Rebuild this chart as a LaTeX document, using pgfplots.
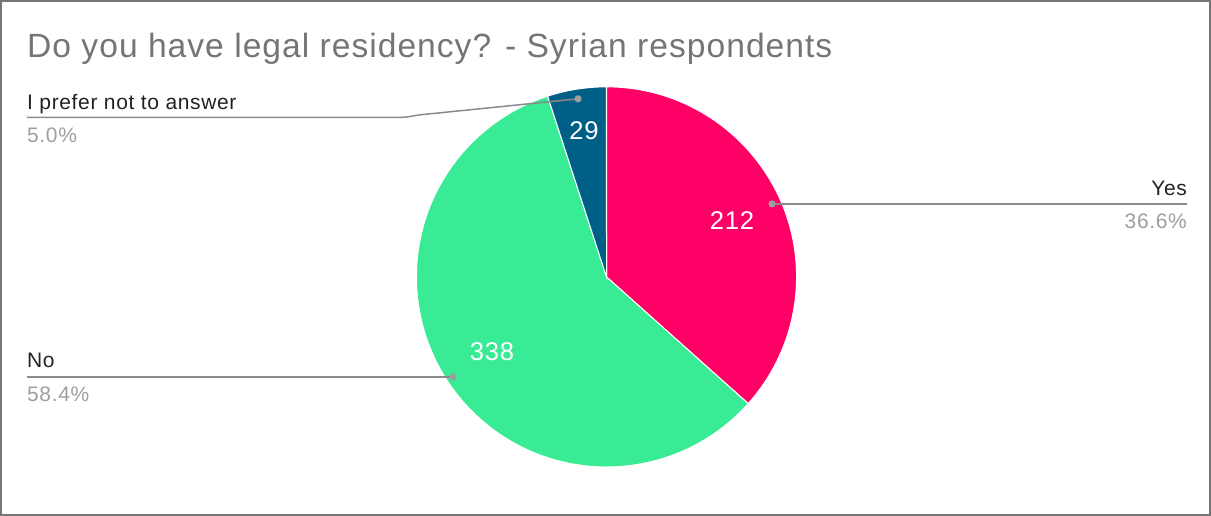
\documentclass[border=0pt]{standalone}
\usepackage{pgfplots}
\pgfplotsset{compat=1.18}
\usepackage{fontspec}
\setmainfont{Liberation Sans}[LetterSpace=3]
\definecolor{cYes}{HTML}{FF0066}
\definecolor{cNo}{HTML}{38EB94}
\definecolor{cPref}{HTML}{005F87}
\definecolor{ctitle}{HTML}{757575}
\definecolor{cline}{HTML}{8A8A8A}
\definecolor{cdot}{HTML}{9E9E9E}
\definecolor{cpct}{HTML}{9E9E9E}
\definecolor{clab}{HTML}{222222}
% data
\def\vYes{212}
\def\vNo{338}
\def\vPref{29}
\begin{document}
\begin{tikzpicture}
\pgfmathsetmacro{\tot}{\vYes+\vNo+\vPref}
\pgfmathsetmacro{\aA}{90}
\pgfmathsetmacro{\aB}{90-360*(\vYes/\tot)}
\pgfmathsetmacro{\aC}{\aB-360*(\vNo/\tot)}
\pgfmathsetmacro{\aD}{\aC-360*(\vPref/\tot)}
\begin{axis}[
  scale only axis, width=605.5pt, height=258pt,
  xmin=0, xmax=1211, ymin=0, ymax=516,
  hide axis, clip=false,
]
\def\cx{606.5}
\def\cy{239}
% slices
\fill[cYes, draw=white, line width=0.5pt] (axis cs:\cx,\cy) -- ++(\aA:95pt) arc[start angle=\aA, end angle=\aB, radius=95pt] -- cycle;
\fill[cNo, draw=white, line width=0.5pt] (axis cs:\cx,\cy) -- ++(\aB:95pt) arc[start angle=\aB, end angle=\aC, radius=95pt] -- cycle;
\fill[cPref, draw=white, line width=0.5pt] (axis cs:\cx,\cy) -- ++(\aC:95pt) arc[start angle=\aC, end angle=\aD, radius=95pt] -- cycle;
% value labels
\node[white, font=\fontsize{12.8}{14}\selectfont] at (axis cs:732,295) {212};
\node[white, font=\fontsize{12.8}{14}\selectfont] at (axis cs:492,164) {338};
\node[white, font=\fontsize{12.8}{14}\selectfont] at (axis cs:584,385) {29};
% leader lines
\draw[cline, line width=0.75pt] (axis cs:772,312) -- (axis cs:1187,312);
\fill[cdot] (axis cs:772,312) circle[radius=1.8pt];
\draw[cline, line width=0.75pt] (axis cs:27,139) -- (axis cs:453,139);
\fill[cdot] (axis cs:453,139) circle[radius=1.8pt];
\draw[cline, line width=0.75pt] (axis cs:27,398.5) -- (axis cs:400,398.5) to[out=0, in=-172] (axis cs:420,401) -- (axis cs:578,417);
\fill[cdot] (axis cs:578,417) circle[radius=1.8pt];
% category labels
\node[clab, anchor=base east, inner sep=0pt, font=\fontsize{10.5}{11}\selectfont] at (axis cs:1187,320) {Yes};
\node[cpct, anchor=base east, inner sep=0pt, font=\fontsize{10.5}{11}\selectfont] at (axis cs:1187,287) {36.6\%};
\node[clab, anchor=base west, inner sep=0pt, font=\fontsize{10.5}{11}\selectfont] at (axis cs:27,148) {No};
\node[cpct, anchor=base west, inner sep=0pt, font=\fontsize{10.5}{11}\selectfont] at (axis cs:27,114) {58.4\%};
\node[clab, anchor=base west, inner sep=0pt, font=\fontsize{10.5}{11}\selectfont] at (axis cs:27,406) {I prefer not to answer};
\node[cpct, anchor=base west, inner sep=0pt, font=\fontsize{10.5}{11}\selectfont] at (axis cs:27,373) {5.0\%};
% title
\node[ctitle, anchor=base west, inner sep=0pt, font=\fontsize{16.8}{18}\selectfont] at (axis cs:27,458) {Do you have legal residency? - Syrian respondents};
% border
\draw[ctitle, line width=0.8pt] (axis cs:1,1) rectangle (axis cs:1210,515);
\end{axis}
\end{tikzpicture}
\end{document}
